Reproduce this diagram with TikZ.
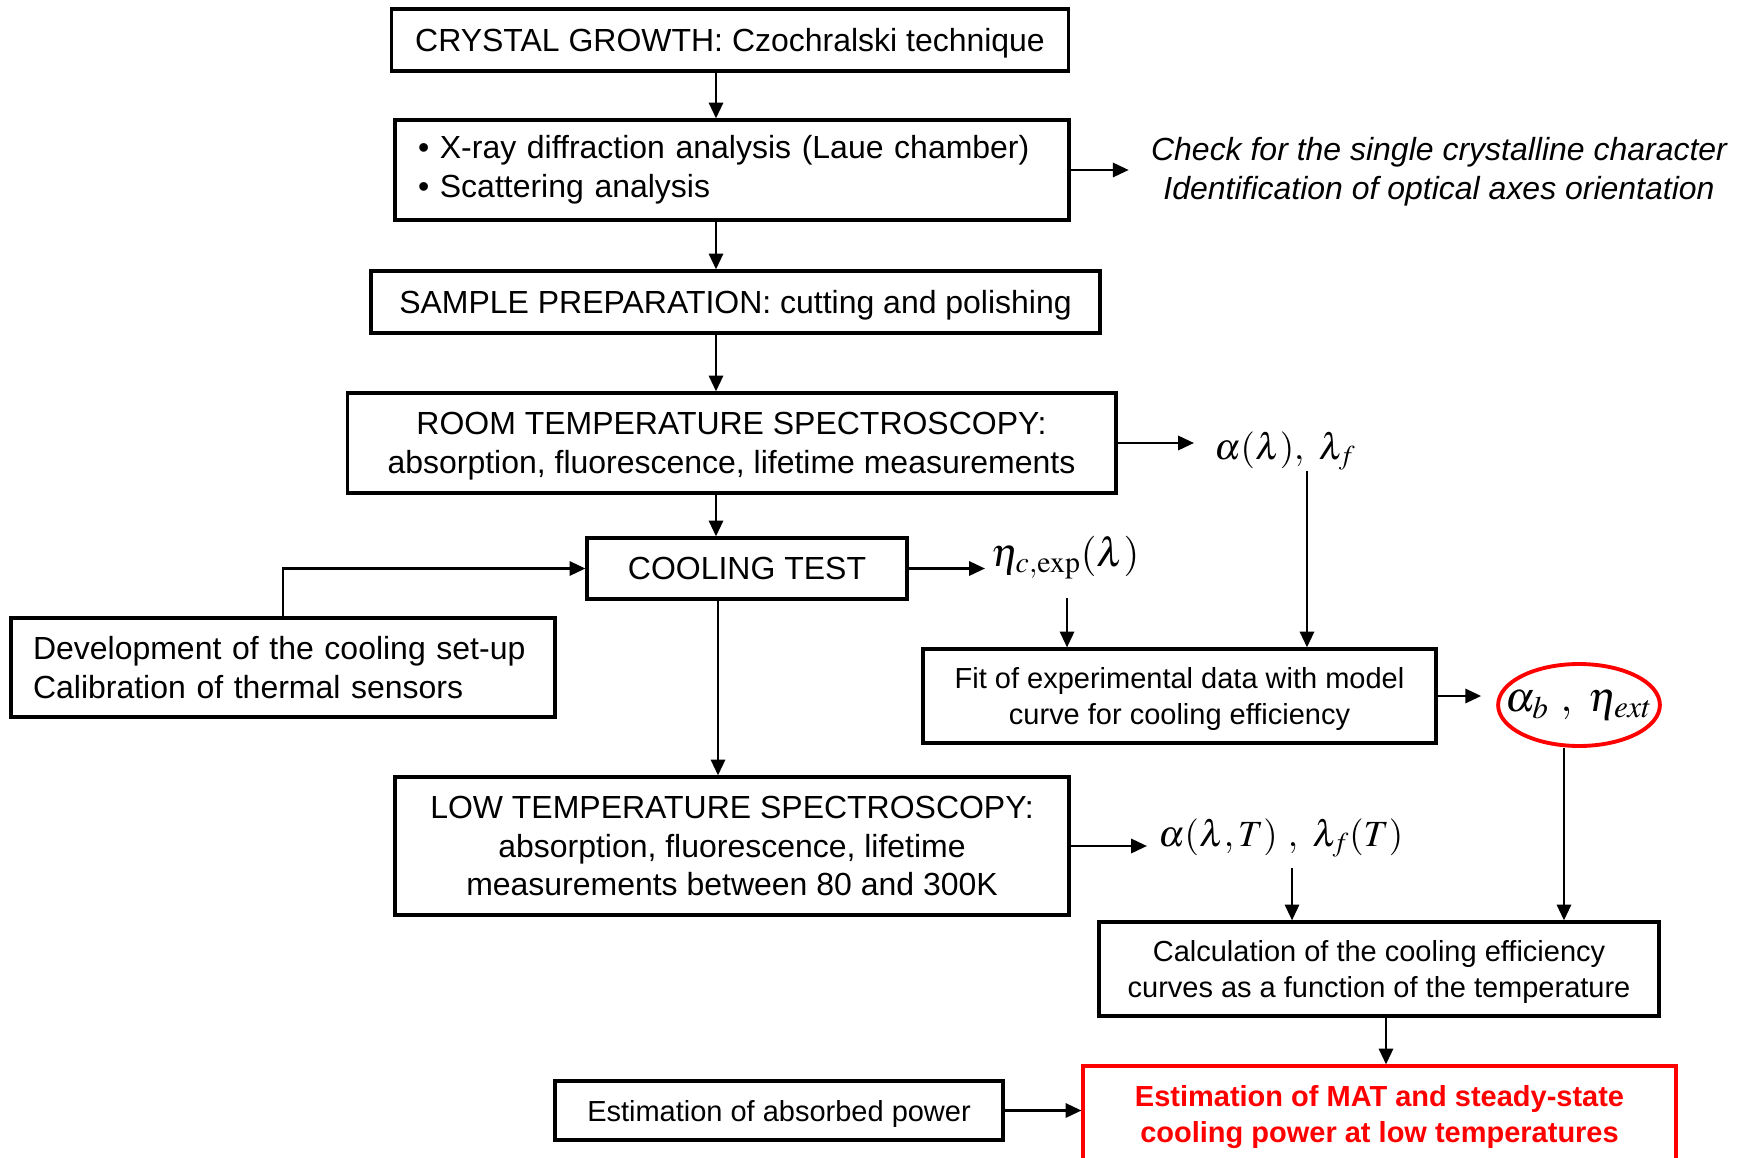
\documentclass[tikz,border=0pt]{standalone}
\usepackage{mathptmx}
\usepackage[no-math]{fontspec}
\setmainfont{Liberation Sans}
\usetikzlibrary{arrows.meta, positioning, shapes.geometric}

\begin{document}
\begin{tikzpicture}[x=0.02cm, y=-0.02cm,
    box/.style={rectangle, draw, line width=1.8pt, inner sep=0pt, text depth=0pt,
                font=\fontsize{18.2}{22}\selectfont, align=center},
    lbox/.style={box, text depth=, align=left},
    sbox/.style={box, font=\fontsize{16.5}{20}\selectfont},
    arr/.style={-{Triangle[length=9pt,width=8pt]}, line width=1.6pt},
    res/.style={inner sep=0pt, anchor=west, font=\fontsize{21}{25}\selectfont},
  ]
    \useasboundingbox (0,0) rectangle (1746,1158);
    \coordinate (spine) at (716,0);

    % main column
    \node[box, minimum width=13.54cm, minimum height=1.24cm] (crystal) at (730,40)
      {CRYSTAL GROWTH: Czochralski technique};
    \node[lbox, minimum height=2cm, text width=12.56cm, inner xsep=0.46cm] (xray) at (732,170)
      {\textbullet\ X-ray diffraction analysis (Laue chamber)\\\textbullet\ Scattering analysis};
    \node[box, minimum width=14.58cm, minimum height=1.24cm] (sample) at (735.5,302)
      {SAMPLE PREPARATION: cutting and polishing};
    \node[box, minimum width=15.38cm, minimum height=2cm] (room) at (731.5,443)
      {ROOM TEMPERATURE SPECTROSCOPY:\\absorption, fluorescence, lifetime measurements};
    \node[box, minimum width=6.4cm, minimum height=1.22cm] (cooling) at (747,568.5)
      {COOLING TEST};
    \node[lbox, minimum height=1.98cm, text width=10cm, inner xsep=0.44cm] (dev) at (283,667.5)
      {Development of the cooling set-up\\Calibration of thermal sensors};
    \node[box, minimum width=13.48cm, minimum height=2.76cm] (low) at (732,846)
      {LOW TEMPERATURE SPECTROSCOPY:\\absorption, fluorescence, lifetime\\measurements between 80 and 300K};
    \node[sbox, minimum width=8.96cm, minimum height=1.18cm] (absorbed) at (779,1110.5)
      {Estimation of absorbed power};

    % right side
    \node[font=\fontsize{18.2}{22}\selectfont\itshape, align=center, inner sep=0pt] (check) at (1439,172)
      {Check for the single crystalline character\\Identification of optical axes orientation};
    \node[res] (alphaL) at (1214,451) {$\alpha(\lambda),\ \lambda_f$};
    \node[res, font=\fontsize{23}{27}\selectfont] (eta) at (991,558) {$\eta_{c,\exp}(\lambda)$};
    \node[sbox, minimum width=10.26cm, minimum height=1.88cm] (fit) at (1179.5,696)
      {Fit of experimental data with model\\curve for cooling efficiency};
    \node[ellipse, draw=red, line width=2.2pt, minimum width=3.2cm, minimum height=1.64cm,
          inner xsep=-0.32cm, inner ysep=0pt, font=\fontsize{24}{28}\selectfont] (ell) at (1579,705)
      {$\alpha_b\ ,\ \eta_{ext}$};
    \node[res] (alphaT) at (1158,838) {$\alpha(\lambda,T)\ ,\ \lambda_f(T)$};
    \node[sbox, minimum width=11.2cm, minimum height=1.88cm] (calc) at (1379,969)
      {Calculation of the cooling efficiency\\curves as a function of the temperature};
    \node[sbox, draw=red, text=red, font=\fontsize{16.5}{20}\selectfont\bfseries,
          minimum width=11.86cm, minimum height=1.92cm] (final) at (1379.5,1114)
      {Estimation of MAT and steady-state\\cooling power at low temperatures};

    \coordinate (fitA) at ([xshift=2.55cm]fit.north);
    \coordinate (fitB) at ([xshift=-2.25cm]fit.north);
    \coordinate (calcA) at ([xshift=3.7cm]calc.north);
    \coordinate (calcB) at ([xshift=-1.74cm]calc.north);

    % connectors
    \draw[arr] (crystal.south -| spine) -- (xray.north -| spine);
    \draw[arr] (xray.south -| spine) -- (sample.north -| spine);
    \draw[arr] (sample.south -| spine) -- (room.north -| spine);
    \draw[arr] (room.south -| spine) -- (cooling.north -| spine);
    \draw[arr] ([xshift=0.04cm]cooling.south -| spine) -- ([xshift=0.04cm]low.north -| spine);
    \draw[arr, shorten >=0.44cm] (xray.east) -- (xray.east -| check.west);
    \draw[arr, shorten >=0.4cm] (room.east) -- (room.east -| alphaL.west);
    \draw[arr, shorten >=0.12cm] (cooling.east) -- (cooling.east -| eta.west);
    \draw[arr] (dev.north) |- (cooling.west);
    \draw[arr] (alphaL.south -| fitA) -- (fitA);
    \draw[arr] ([yshift=-0.36cm]eta.south -| fitB) -- (fitB);
    \draw[arr, shorten >=0.3cm] (fit.east) -- (fit.east -| ell.west);
    \draw[arr] (ell.south -| calcA) -- (calcA);
    \draw[arr, shorten >=0.22cm] (low.east) -- (low.east -| alphaT.west);
    \draw[arr] ([yshift=-0.2cm]alphaT.south -| calcB) -- (calcB);
    \draw[arr] ([xshift=0.14cm]calc.south) -- ([xshift=0.14cm]calc.south |- final.north);
    \draw[arr] (absorbed.east) -- (absorbed.east -| final.west);
  \end{tikzpicture}
\end{document}
